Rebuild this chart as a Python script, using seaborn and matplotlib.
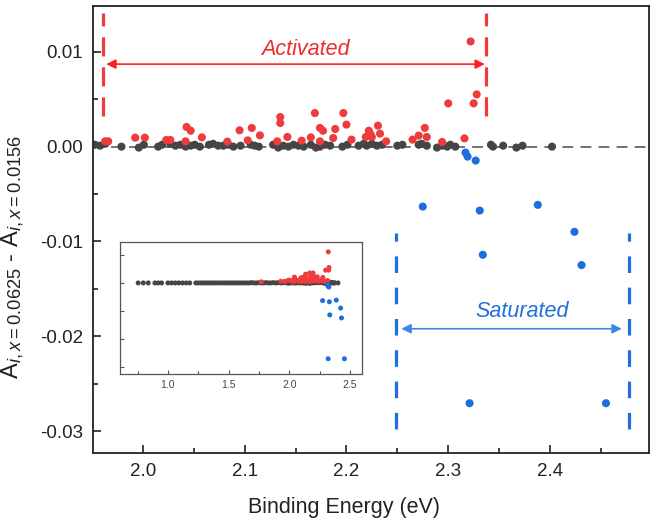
import matplotlib
matplotlib.use("Agg")
import matplotlib.pyplot as plt
import matplotlib._mathtext as mathtext_internals
import numpy as np
import pandas as pd
import seaborn as sns
from matplotlib.ticker import MultipleLocator, FormatStrFormatter

# ---- data -------------------------------------------------------------
# difference of A_i between x=0.0625 and x=0.0156 versus binding energy
neutral_energy = [
    0.755, 0.797, 0.838, 0.893, 0.920, 0.948, 1.00, 1.03, 1.06, 1.09,
    1.12, 1.15, 1.18, 1.23, 1.25, 1.27, 1.29, 1.31, 1.33, 1.35,
    1.37, 1.39, 1.41, 1.43, 1.45, 1.47, 1.49, 1.51, 1.53, 1.55,
    1.57, 1.59, 1.61, 1.63, 1.65, 1.67, 1.69, 1.71, 1.73, 1.75,
    1.77, 1.79, 1.81, 1.83, 1.85, 1.87, 1.89, 1.91, 1.93, 1.945,
    1.953, 1.958, 1.963, 1.979, 1.996, 2.001, 2.015, 2.019, 2.027, 2.032,
    2.037, 2.042, 2.047, 2.051, 2.056, 2.065, 2.069, 2.074, 2.079, 2.084,
    2.089, 2.096, 2.106, 2.110, 2.114, 2.128, 2.133, 2.138, 2.143, 2.148,
    2.153, 2.158, 2.165, 2.170, 2.174, 2.179, 2.184, 2.196, 2.201, 2.212,
    2.217, 2.220, 2.225, 2.230, 2.235, 2.250, 2.255, 2.271, 2.274, 2.279,
    2.289, 2.294, 2.299, 2.302, 2.307, 2.342, 2.344, 2.354, 2.367, 2.373,
    2.402,
]
neutral_diff = [
    0.0, 0.0, 0.0, 0.0, 0.0, 0.0, 0.0, 0.0, 0.0, 0.0,
    0.0, 0.0, 0.0, 0.0, 0.0, 0.0, 0.0, 0.0, 0.0, 0.0,
    0.0, 0.0, 0.0, 0.0, 0.0, 0.0, 0.0, 0.0, 0.0, 0.0,
    0.0, 0.0, 0.0, 0.0, 0.0, 0.0, 0.0001, 0.0, 0.0, 0.0001,
    0.0, 0.0, 0.0001, 0.0, 0.0, 0.0001, 0.0, 0.0001, 0.0, 0.0001,
    0.0002, 0.0001, 0.0003, 0.0000, -0.0001, 0.0002, 0.0000, 0.0002, 0.0003, 0.0001,
    0.0002, 0.0000, 0.0001, 0.0002, 0.0000, 0.0002, 0.0003, 0.0001, 0.0001, 0.0002,
    0.0000, 0.0001, 0.0002, 0.0001, 0.0000, 0.0002, -0.0001, 0.0001, 0.0000, 0.0002,
    0.0001, 0.0000, 0.0002, -0.0001, 0.0000, 0.0002, 0.0001, 0.0000, 0.0002, 0.0001,
    0.0003, 0.0001, 0.0003, 0.0001, 0.0002, 0.0001, 0.0002, 0.0002, 0.0003, 0.0001,
    -0.0001, 0.0001, 0.0000, 0.0002, 0.0000, 0.0002, 0.0000, 0.0001, -0.0001, 0.0001,
    0.0000,
]

activated_energy = [
    1.77, 1.93, 1.963, 1.966, 1.9925, 2.002, 2.023, 2.027, 2.042, 2.043,
    2.047, 2.058, 2.083, 2.095, 2.103, 2.107, 2.115, 2.132, 2.135, 2.135,
    2.142, 2.156, 2.165, 2.169, 2.174, 2.174, 2.177, 2.187, 2.189, 2.197,
    2.200, 2.205, 2.219, 2.222, 2.224, 2.225, 2.231, 2.233, 2.239, 2.265,
    2.271, 2.277, 2.279, 2.294, 2.300, 2.316, 2.322, 2.325, 2.328,
]
activated_diff = [
    0.0004, 0.0006, 0.00056, 0.00056, 0.00095, 0.00095, 0.0007, 0.0007, 0.00056, 0.00207,
    0.00168, 0.00098, 0.00053, 0.00172, 0.00066, 0.00197, 0.00119, 0.00056, 0.00312, 0.00249,
    0.00102, 0.00063, 0.00098, 0.00354, 0.00197, 0.00056, 0.00168, 0.00091, 0.00186, 0.00354,
    0.00232, 0.00074, 0.00102, 0.00168, 0.00126, 0.00102, 0.00221, 0.00137, 0.00056, 0.00074,
    0.00116, 0.00197, 0.00102, 0.00049, 0.00456, 0.00087, 0.01109, 0.00456, 0.00551,
]

saturated_energy = [2.317, 2.319, 2.327, 2.275, 2.331, 2.388, 2.424, 2.334, 2.431, 2.321, 2.455]
saturated_diff = [-0.00063, -0.00105, -0.00147, -0.00632, -0.00674, -0.00614,
                  -0.00898, -0.01140, -0.01249, -0.02705, -0.02705]

# energy windows marked by the dashed brackets
activated_window = (1.961, 2.337)
saturated_window = (2.249, 2.4775)

# ---- styling ----------------------------------------------------------
sns.set_theme(style="ticks")
plt.rcParams.update({
    "font.family": ["Liberation Sans", "DejaVu Sans"],
    "axes.unicode_minus": False,
    "mathtext.fontset": "custom",
    "mathtext.rm": "Liberation Sans",
    "mathtext.it": "Liberation Sans:italic",
    "mathtext.bf": "Liberation Sans:bold",
})
# slightly larger subscripts in the axis label
mathtext_internals.SHRINK_FACTOR = 0.78

GRAY = "#454545"
RED = "#ef3b3b"
BLUE = "#1b6fdd"
palette = {"neutral": GRAY, "activated": RED, "saturated": BLUE}

df = pd.concat([
    pd.DataFrame({"energy": neutral_energy, "diff": neutral_diff, "group": "neutral"}),
    pd.DataFrame({"energy": activated_energy, "diff": activated_diff, "group": "activated"}),
    pd.DataFrame({"energy": saturated_energy, "diff": saturated_diff, "group": "saturated"}),
], ignore_index=True)

fig = plt.figure(figsize=(6.64, 5.21), dpi=100)
ax = fig.add_axes([0.140, 0.1305, 0.837, 0.8575])

ax.axhline(0, color="#666666", lw=1.3, dashes=(6, 4), zorder=0.5)
sns.scatterplot(data=df, x="energy", y="diff", hue="group", palette=palette,
                s=34, linewidth=0, legend=False, ax=ax, zorder=2)

ax.set_xlim(1.951, 2.497)
ax.set_ylim(-0.0323, 0.0148)
ax.xaxis.set_major_locator(MultipleLocator(0.1))
ax.xaxis.set_minor_locator(MultipleLocator(0.05))
ax.yaxis.set_major_locator(MultipleLocator(0.01))
ax.yaxis.set_minor_locator(MultipleLocator(0.005))
ax.xaxis.set_major_formatter(FormatStrFormatter("%.1f"))
ax.yaxis.set_major_formatter(FormatStrFormatter("%.2f"))
ax.tick_params(which="both", direction="in", width=1.2, colors="#222222",
               labelsize=13.5, labelcolor="#222222")
ax.tick_params(which="major", length=6, pad=7)
ax.tick_params(which="minor", length=3.5)
for sp in ax.spines.values():
    sp.set_linewidth(1.3)
    sp.set_color("#222222")

ax.set_xlabel("Binding Energy (eV)", fontsize=15.5, color="#222222")
ax.set_ylabel(r"A$_{\mathit{i,x=0.0625}}$ - A$_{\mathit{i,x=0.0156}}$",
              fontsize=17, color="#222222")
ax.xaxis.set_label_coords(0.451, -0.098)
ax.yaxis.set_label_coords(-0.118, 0.44)

# activated bracket
for xv in activated_window:
    ax.plot([xv, xv], [0.0032, 0.0141], color="#f03c3c", lw=2.3,
            dashes=(6, 3.4), solid_capstyle="butt", zorder=3)
ax.annotate("", xy=(activated_window[0] + 0.003, 0.0087),
            xytext=(activated_window[1] - 0.001, 0.0087),
            arrowprops=dict(arrowstyle="<|-|>", color="#ff1f1f", lw=1.2,
                            mutation_scale=14, shrinkA=0, shrinkB=0))
ax.text(2.160, 0.0102, "Activated", color="#ee2b2b", fontsize=15.5,
        style="italic", ha="center", va="center")

# saturated bracket
for xv in saturated_window:
    ax.plot([xv, xv], [-0.0298, -0.0091], color="#1f6fe0", lw=2.3,
            dashes=(5.2, 4.6), solid_capstyle="butt", zorder=3)
ax.annotate("", xy=(saturated_window[0] + 0.005, -0.0192),
            xytext=(saturated_window[1] - 0.007, -0.0192),
            arrowprops=dict(arrowstyle="<|-|>", color="#3f86e4", lw=1.2,
                            mutation_scale=14, shrinkA=0, shrinkB=0))
ax.text(2.373, -0.0174, "Saturated", color="#1f6fdc", fontsize=15.5,
        style="italic", ha="center", va="center")

# ---- inset: full energy range ----------------------------------------
axi = fig.add_axes([0.1807, 0.2821, 0.3645, 0.2534])
sns.scatterplot(data=df, x="energy", y="diff", hue="group", palette=palette,
                s=13, linewidth=0, legend=False, ax=axi)
axi.set_xlim(0.605, 2.6)
axi.set_ylim(-0.0325, 0.0146)
axi.xaxis.set_major_locator(MultipleLocator(0.5))
axi.xaxis.set_minor_locator(MultipleLocator(0.25))
axi.yaxis.set_major_locator(MultipleLocator(0.01))
axi.xaxis.set_major_formatter(FormatStrFormatter("%.1f"))
axi.set_yticklabels([])
axi.set_xlabel("")
axi.set_ylabel("")
axi.tick_params(which="both", direction="in", width=0.8, colors="#555555",
                labelsize=7.5, labelcolor="#444444")
axi.tick_params(which="major", length=3, pad=4)
axi.tick_params(which="minor", length=2)
for sp in axi.spines.values():
    sp.set_linewidth(0.9)
    sp.set_color("#555555")

fig.savefig("out.png", dpi=100)
